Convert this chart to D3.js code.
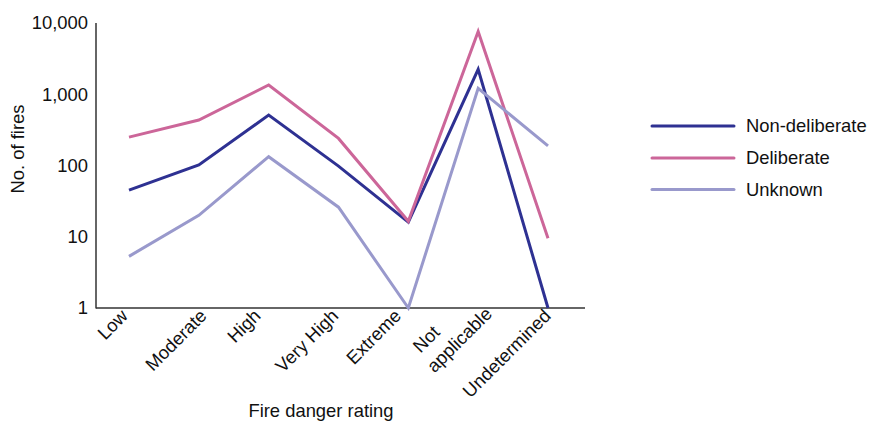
<!DOCTYPE html>
<html><head><meta charset="utf-8">
<script src="https://cdn.jsdelivr.net/npm/d3@7"></script>
<style>body{margin:0;background:#fff}svg{display:block;font-family:"Liberation Sans",Arial,sans-serif}</style>
</head><body><svg id="c" width="869" height="422"></svg>
<script>
const categories = ["Low","Moderate","High","Very High","Extreme","Not applicable","Undetermined"];
const nonDeliberate = [45, 102, 510, 98, 16, 2240, 1];
const deliberate = [250, 435, 1350, 240, 16.5, 7600, 9.5];
const unknown = [5.3, 20, 133, 26, 1, 1210, 188];
const yTicks = [1, 10, 100, 1000, 10000];
const seriesNames = ["Non-deliberate","Deliberate","Unknown"];
const seriesColors = ["#2e3192","#cc6699","#9999cc"];

const FS = 18.4;
const svg = d3.select("#c");
const x = d3.scalePoint().domain(categories).range([129, 548]);
const y = d3.scaleLog().domain([1, 10000]).range([308, 23]);
const axisColor = "#333";

svg.append("line").attr("x1",96).attr("x2",96).attr("y1",y(10000)).attr("y2",y(1)+0.5).attr("stroke",axisColor).attr("stroke-width",1.5);
svg.append("line").attr("x1",96).attr("x2",585).attr("y1",y(1)).attr("y2",y(1)).attr("stroke",axisColor).attr("stroke-width",1.5);

const yAxis = d3.axisLeft(y).tickValues(yTicks).tickSize(0).tickPadding(0).tickFormat(d3.format(","));
const gy = svg.append("g").attr("transform","translate(88,0)").call(yAxis);
gy.select(".domain").remove();
gy.selectAll("text").attr("font-size",FS).attr("fill","#111").attr("font-family","Liberation Sans, Arial, sans-serif");

const labelNudge = [0, 9, -7, 1, -6, 15, 4];
categories.forEach((c,i)=>{
  const lx = x(c) + labelNudge[i], ly = (c === "Not applicable") ? 315 : 317;
  const t = svg.append("text").attr("transform",`translate(${lx},${ly}) rotate(-45)`)
    .attr("text-anchor","end").attr("font-size",FS).attr("fill","#111");
  if (c === "Not applicable") {
    t.append("tspan").attr("x",-50).attr("dy",-24).text("Not");
    t.append("tspan").attr("x",0).attr("dy",24).text("applicable");
  } else {
    t.text(c);
  }
});

const line = d3.line().x((d,i)=>x(categories[i])).y(d=>y(d));
[nonDeliberate, deliberate, unknown].forEach((s,k)=>{
  svg.append("path").datum(s).attr("d",line).attr("fill","none")
    .attr("stroke",seriesColors[k]).attr("stroke-width",3).attr("stroke-linejoin","miter");
});

svg.append("text").attr("x",321).attr("y",417).attr("text-anchor","middle").attr("font-size",FS).attr("fill","#111").text("Fire danger rating");
svg.append("text").attr("transform","translate(24,149) rotate(-90)").attr("text-anchor","middle").attr("font-size",FS).attr("fill","#111").text("No. of fires");

const ly0 = [126, 158, 189.5];
seriesNames.forEach((n,k)=>{
  svg.append("line").attr("x1",652).attr("x2",734).attr("y1",ly0[k]).attr("y2",ly0[k]).attr("stroke",seriesColors[k]).attr("stroke-width",3).attr("stroke-linecap","round");
  svg.append("text").attr("x",746).attr("y",ly0[k]).attr("dy","0.35em").attr("font-size",FS).attr("fill","#111").text(n);
});
</script></body></html>
